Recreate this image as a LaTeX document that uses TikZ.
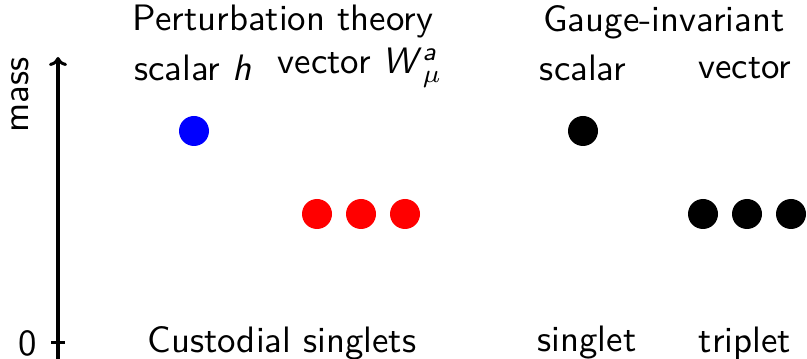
\documentclass[tikz,border=0pt]{standalone}
\usepackage{amsmath}
\usepackage{graphicx}
\usetikzlibrary{arrows.meta}
\renewcommand{\familydefault}{\sfdefault}
\newcommand{\bigtxt}[1]{\scalebox{3.68}{\normalsize\sffamily #1}}
\begin{document}
\begin{tikzpicture}[x=1pt,y=1pt,
  lbl/.style={inner sep=0pt},
  dotb/.style={circle, fill=#1, minimum size=30pt, inner sep=0pt}]
\useasboundingbox (0,0) rectangle (807,359);
% axis
\coordinate (ax0) at (58,0);
\coordinate (ax1) at (58,302);
\draw[line width=3.5pt, -{To[length=9pt,width=18pt,line width=3pt]}] (ax0) -- (ax1);
\coordinate (t0) at (51,16);
\coordinate (t1) at (65,16);
\draw[line width=3pt] (t0) -- (t1);
\node[lbl] (zero) at (28,16) {\bigtxt{0}};
\node[lbl, rotate=90] (mass) at (20,264) {\bigtxt{mass}};
% headings
\node[lbl] (pt) at (283,337) {\bigtxt{Perturbation theory}};
\node[lbl] (sh) at (193,291) {\bigtxt{scalar \textit{h}}};
\node[lbl] (vw) at (360,291) {\bigtxt{vector \textit{W}$^{\text{\itshape a}}_{\mu}$}};
\node[lbl] (gi) at (664,337) {\bigtxt{Gauge-invariant}};
\node[lbl] (gs) at (583,291) {\bigtxt{scalar}};
\node[lbl] (gv) at (745,291) {\bigtxt{vector}};
\node[lbl] (cs) at (282,16) {\bigtxt{Custodial singlets}};
\node[lbl] (si) at (587,16) {\bigtxt{singlet}};
\node[lbl] (tr) at (745,16) {\bigtxt{triplet}};
% dots
\node[dotb=blue] (h) at (194,228) {};
\node[dotb=red] (w1) at (317,145) {};
\node[dotb=red] (w2) at (361,145) {};
\node[dotb=red] (w3) at (405,145) {};
\node[dotb=black] (s) at (583,228) {};
\node[dotb=black] (v1) at (703,145) {};
\node[dotb=black] (v2) at (747,145) {};
\node[dotb=black] (v3) at (791,145) {};
\end{tikzpicture}
\end{document}
